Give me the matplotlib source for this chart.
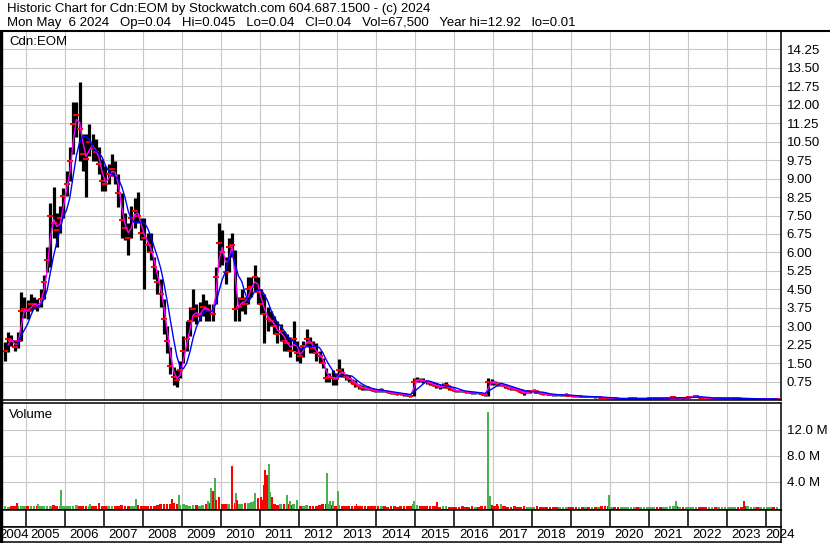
import numpy as np
import pandas as pd
import matplotlib
matplotlib.use('Agg')
import matplotlib.pyplot as plt
from matplotlib.lines import Line2D

plt.rcParams['font.family'] = ['Liberation Sans', 'DejaVu Sans']

# monthly bars, Jun 2004 .. Apr 2024
close = [
    2.0, 2.5, 2.4, 2.15, 2.4, 3.6, 3.7,                                   # 2004 Jun-Dec
    3.6, 3.9, 3.9, 3.8, 4.1, 4.8, 5.7, 7.5, 7.2, 6.9, 7.4, 8.3,            # 2005
    8.8, 9.7, 11.2, 11.6, 11.0, 10.0, 9.8, 10.5, 10.2, 10.1, 9.6, 8.9,     # 2006
    8.8, 9.2, 9.4, 9.1, 8.4, 7.3, 7.0, 6.6, 7.4, 7.7, 7.5, 6.8,            # 2007
    6.6, 6.3, 6.0, 5.4, 4.8, 4.3, 3.3, 2.4, 1.4, 0.95, 0.8, 1.2,           # 2008
    2.0, 2.5, 3.2, 3.7, 3.4, 3.5, 3.8, 3.7, 3.6, 3.5, 5.0, 6.4,            # 2009
    6.0, 5.2, 6.2, 6.3, 3.7, 3.8, 4.1, 3.9, 4.5, 4.6, 5.0, 4.4,            # 2010
    3.9, 3.5, 3.3, 3.2, 3.0, 2.7, 2.8, 2.4, 2.3, 2.0, 2.5, 1.9,            # 2011
    1.8, 2.2, 2.5, 2.3, 2.1, 1.9, 1.8, 1.5, 0.9, 0.95, 0.9, 0.85,          # 2012
    1.2, 1.1, 0.95, 0.85, 0.75, 0.65, 0.55, 0.5, 0.48, 0.45, 0.42, 0.38,   # 2013
    0.37, 0.4, 0.36, 0.32, 0.3, 0.27, 0.26, 0.25, 0.23, 0.2, 0.17, 0.75,   # 2014
    0.82, 0.8, 0.78, 0.72, 0.68, 0.62, 0.58, 0.53, 0.58, 0.6, 0.5, 0.4,    # 2015
    0.38, 0.36, 0.35, 0.33, 0.32, 0.3, 0.3, 0.27, 0.26, 0.2, 0.75, 0.72,   # 2016
    0.68, 0.65, 0.62, 0.55, 0.5, 0.47, 0.45, 0.42, 0.33, 0.28, 0.33, 0.36, # 2017
    0.38, 0.3, 0.27, 0.25, 0.23, 0.22, 0.21, 0.2, 0.2, 0.2, 0.21, 0.18,    # 2018
    0.16, 0.15, 0.15, 0.14, 0.14, 0.13, 0.13, 0.12, 0.12, 0.1, 0.09, 0.08, # 2019
    0.08, 0.07, 0.05, 0.05, 0.06, 0.06, 0.07, 0.07, 0.06, 0.06, 0.06, 0.06,  # 2020
    0.07, 0.09, 0.08, 0.07, 0.07, 0.08, 0.1, 0.11, 0.09, 0.09, 0.08, 0.1,    # 2021
    0.12, 0.14, 0.15, 0.12, 0.09, 0.08, 0.08, 0.08, 0.07, 0.07, 0.07, 0.07,  # 2022
    0.08, 0.08, 0.08, 0.07, 0.06, 0.05, 0.05, 0.05, 0.05, 0.04, 0.04, 0.04,  # 2023
    0.05, 0.05, 0.04, 0.04,                                                  # 2024
]
high = [
    2.35, 2.75, 2.65, 2.45, 2.75, 4.4, 4.2,
    4.05, 4.3, 4.2, 4.1, 4.5, 5.1, 6.2, 8.0, 8.66, 7.6, 7.9, 8.6,
    9.3, 10.3, 12.1, 12.1, 12.93, 10.8, 10.8, 11.2, 10.8, 10.6, 10.3, 9.8,
    9.5, 9.6, 10.0, 9.7, 9.2, 8.4, 7.6, 7.2, 7.9, 8.2, 8.46, 7.4,
    7.4, 6.8, 6.8, 5.8, 5.3, 4.9, 4.1, 3.0, 2.15, 1.35, 1.2, 1.6,
    2.6, 3.2, 3.8, 4.5, 3.9, 4.0, 4.3, 4.05, 3.9, 3.9, 5.4, 7.2,
    6.9, 5.8, 6.6, 6.8, 6.1, 4.2, 4.5, 4.2, 5.0, 5.0, 5.5, 5.0,
    4.5, 4.3, 3.8, 3.6, 3.4, 3.2, 3.1, 2.8, 2.7, 2.55, 3.2, 2.4,
    2.15, 2.4, 2.87, 2.55, 2.4, 2.3, 2.0, 1.7, 1.3, 1.1, 1.2, 1.1,
    1.65, 1.3, 1.07, 1.0, 0.86, 0.8, 0.66, 0.6, 0.58, 0.55, 0.5, 0.45,
    0.42, 0.47, 0.42, 0.37, 0.34, 0.3, 0.3, 0.29, 0.27, 0.24, 0.22, 0.9,
    0.95, 0.9, 0.88, 0.82, 0.78, 0.72, 0.68, 0.62, 0.7, 0.72, 0.62, 0.5,
    0.42, 0.4, 0.42, 0.37, 0.36, 0.34, 0.34, 0.31, 0.3, 0.26, 0.88, 0.86,
    0.78, 0.74, 0.7, 0.65, 0.58, 0.54, 0.52, 0.5, 0.44, 0.35, 0.4, 0.42,
    0.44, 0.4, 0.32, 0.3, 0.28, 0.26, 0.25, 0.24, 0.24, 0.25, 0.28, 0.22,
    0.2, 0.18, 0.18, 0.17, 0.17, 0.16, 0.16, 0.15, 0.15, 0.13, 0.12, 0.1,
    0.1, 0.09, 0.08, 0.07, 0.08, 0.08, 0.09, 0.09, 0.08, 0.08, 0.08, 0.08,
    0.09, 0.12, 0.1, 0.09, 0.09, 0.1, 0.14, 0.15, 0.12, 0.11, 0.1, 0.13,
    0.15, 0.18, 0.19, 0.16, 0.12, 0.1, 0.1, 0.1, 0.09, 0.09, 0.09, 0.09,
    0.1, 0.1, 0.1, 0.09, 0.08, 0.07, 0.07, 0.06, 0.06, 0.06, 0.05, 0.05,
    0.06, 0.06, 0.05, 0.05,
]
low = [
    1.6, 1.95, 2.2, 2.0, 2.1, 2.4, 3.35,
    3.3, 3.6, 3.7, 3.6, 3.8, 4.1, 5.2, 5.4, 6.6, 6.2, 6.8, 7.4,
    8.3, 8.9, 10.0, 10.7, 9.7, 9.3, 8.25, 9.9, 9.7, 9.7, 9.2, 8.5,
    8.5, 8.8, 9.1, 8.8, 7.85, 6.6, 6.5, 5.9, 6.6, 7.0, 7.2, 6.5,
    4.5, 6.0, 5.7, 4.9, 4.3, 3.8, 2.7, 1.9, 1.07, 0.6, 0.52, 0.9,
    1.5, 2.0, 2.6, 3.2, 3.1, 3.2, 3.4, 3.2, 3.2, 3.2, 3.9, 5.4,
    5.5, 4.7, 5.2, 5.8, 3.2, 3.2, 3.6, 3.5, 3.9, 4.2, 4.45, 3.9,
    3.5, 2.3, 2.8, 3.0, 2.7, 2.3, 2.4, 2.0, 2.0, 1.75, 2.0, 1.6,
    1.5, 1.75, 2.2, 1.9, 1.9, 1.6, 1.5, 1.3, 0.75, 0.75, 0.6, 0.6,
    0.93, 0.93, 0.8, 0.75, 0.66, 0.53, 0.46, 0.39, 0.4, 0.39, 0.36, 0.33,
    0.33, 0.34, 0.32, 0.29, 0.26, 0.24, 0.22, 0.21, 0.18, 0.15, 0.12, 0.15,
    0.72, 0.72, 0.7, 0.65, 0.6, 0.55, 0.5, 0.46, 0.5, 0.5, 0.42, 0.36,
    0.34, 0.32, 0.31, 0.3, 0.29, 0.26, 0.26, 0.23, 0.21, 0.16, 0.18, 0.6,
    0.6, 0.58, 0.55, 0.5, 0.45, 0.42, 0.4, 0.36, 0.28, 0.22, 0.27, 0.3,
    0.32, 0.27, 0.24, 0.22, 0.2, 0.19, 0.18, 0.17, 0.17, 0.17, 0.18, 0.15,
    0.14, 0.13, 0.13, 0.12, 0.12, 0.11, 0.11, 0.1, 0.1, 0.08, 0.07, 0.06,
    0.06, 0.05, 0.03, 0.03, 0.04, 0.05, 0.05, 0.05, 0.05, 0.05, 0.05, 0.05,
    0.05, 0.06, 0.06, 0.06, 0.06, 0.06, 0.07, 0.08, 0.07, 0.07, 0.06, 0.07,
    0.09, 0.11, 0.12, 0.09, 0.07, 0.06, 0.06, 0.06, 0.05, 0.05, 0.05, 0.05,
    0.06, 0.06, 0.06, 0.05, 0.05, 0.04, 0.04, 0.04, 0.04, 0.03, 0.03, 0.03,
    0.04, 0.04, 0.03, 0.03,
]
# typical daily volume per month (millions)
vol_base = [
    0.2, 0.15, 0.2, 0.3, 0.25, 0.3, 0.25,
    0.2, 0.2, 0.25, 0.3, 0.2, 0.25, 0.3, 0.3, 0.35, 0.25, 0.2, 0.3,
    0.3, 0.25, 0.3, 0.35, 0.3, 0.25, 0.2, 0.3, 0.25, 0.3, 0.35, 0.3,
    0.2, 0.2, 0.25, 0.2, 0.3, 0.35, 0.3, 0.3, 0.25, 0.3, 0.35, 0.3,
    0.25, 0.2, 0.2, 0.3, 0.4, 0.5, 0.6, 0.5, 0.6, 0.7, 0.5, 0.4,
    0.5, 0.4, 0.3, 0.4, 0.35, 0.3, 0.4, 0.5, 0.7, 0.8, 0.9, 0.8,
    0.6, 0.5, 0.6, 0.9, 0.8, 0.5, 0.6, 0.7, 0.8, 0.9, 1.0, 1.1,
    1.2, 1.0, 0.8, 0.6, 0.5, 0.4, 0.5, 0.6, 0.5, 0.4, 0.5, 0.4,
    0.3, 0.3, 0.35, 0.3, 0.25, 0.3, 0.35, 0.5, 0.6, 0.5, 0.4, 0.3,
    0.4, 0.3, 0.25, 0.2, 0.2, 0.25, 0.3, 0.2, 0.2, 0.25, 0.2, 0.2,
    0.2, 0.25, 0.2, 0.15, 0.2, 0.2, 0.15, 0.2, 0.2, 0.25, 0.2, 0.5,
    0.4, 0.3, 0.25, 0.2, 0.2, 0.25, 0.2, 0.15, 0.2, 0.2, 0.15, 0.15,
    0.15, 0.15, 0.2, 0.15, 0.15, 0.2, 0.15, 0.15, 0.2, 0.2, 0.6, 0.4,
    0.3, 0.25, 0.2, 0.2, 0.15, 0.15, 0.2, 0.15, 0.15, 0.2, 0.15, 0.15,
    0.15, 0.2, 0.15, 0.15, 0.1, 0.15, 0.1, 0.1, 0.15, 0.1, 0.1, 0.15,
    0.1, 0.15, 0.1, 0.15, 0.1, 0.1, 0.15, 0.1, 0.1, 0.2, 0.3, 0.2,
    0.15, 0.1, 0.15, 0.1, 0.15, 0.1, 0.1, 0.15, 0.1, 0.1, 0.15, 0.1,
    0.1, 0.15, 0.1, 0.1, 0.1, 0.15, 0.2, 0.3, 0.2, 0.15, 0.1, 0.1,
    0.15, 0.1, 0.15, 0.1, 0.1, 0.1, 0.15, 0.1, 0.1, 0.15, 0.1, 0.1,
    0.1, 0.15, 0.1, 0.1, 0.15, 0.2, 0.3, 0.15, 0.1, 0.15, 0.1, 0.1,
    0.15, 0.1, 0.1, 0.15,
]
# single heavy-volume days
spike_t = [2004.76, 2005.30, 2005.89, 2006.64, 2006.87, 2007.83, 2008.55, 2008.74,
           2008.93, 2009.68, 2009.74, 2009.80, 2009.85, 2009.89, 2009.96, 2010.30,
           2010.39, 2010.43, 2010.88, 2010.95, 2011.04, 2011.12, 2011.15, 2011.18,
           2011.23, 2011.28, 2011.32, 2011.70, 2011.78, 2011.95, 2012.72, 2012.81,
           2012.89, 2013.02, 2013.49, 2014.97, 2015.56, 2016.875, 2016.91, 2017.10,
           2017.20, 2019.98, 2021.69, 2023.45]
spike_vol = [0.8, 0.6, 2.7, 0.6, 0.8, 1.3, 0.5, 1.4,
             2.0, 1.1, 3.1, 2.5, 4.6, 1.2, 1.7, 6.5,
             2.3, 1.2, 2.2, 1.5, 1.6, 3.5, 5.8, 5.0,
             6.8, 2.4, 1.7, 1.9, 1.1, 1.2, 5.4, 1.1,
             1.1, 2.5, 0.6, 1.1, 0.9, 14.8, 1.8, 0.6,
             0.6, 1.9, 1.1, 1.1]
spike_up = [0, 1, 1, 1, 0, 1, 0, 0,
            1, 1, 1, 0, 1, 0, 0, 0,
            1, 0, 1, 0, 0, 0, 0, 0,
            1, 1, 0, 1, 1, 1, 1, 1,
            1, 1, 0, 1, 0, 1, 1, 0,
            1, 1, 1, 0]

price_ticks = [0.75, 1.50, 2.25, 3.00, 3.75, 4.50, 5.25, 6.00, 6.75, 7.50,
               8.25, 9.00, 9.75, 10.50, 11.25, 12.00, 12.75, 13.50, 14.25]
vol_ticks = [4, 8, 12]
years = list(range(2004, 2025))

title1 = "Historic Chart for Cdn:EOM by Stockwatch.com 604.687.1500 - (c) 2024"
title2 = ("Mon May  6 2024   Op=0.04   Hi=0.045   Lo=0.04   Cl=0.04   "
          "Vol=67,500   Year hi=12.92   lo=0.01")

t = 2004 + (5.5 + np.arange(len(close))) / 12
s = pd.Series(close)
ma_fast = s.rolling(2).mean()
ma_slow = s.rolling(5).mean()
up = np.r_[True, np.diff(close) >= 0]

W, H = 830, 543
fig = plt.figure(figsize=(W / 100, H / 100), dpi=100)
xlim = (2004.383, 2024.394)
grid_c = '#c8c8c8'
fs = 9.5


def box(l, top, r, b):
    a = fig.add_axes([l / W, 1 - b / H, (r - l) / W, (b - top) / H])
    for sp in a.spines.values():
        sp.set_color('black')
        sp.set_linewidth(1.1)
    a.set_xlim(*xlim)
    return a


# price panel
ax = box(2, 31, 781, 400)
ax.set_ylim(0, 15)
ax.set_xticks(years[1:])
ax.set_yticks(price_ticks)
ax.set_yticklabels(['%.2f' % v for v in price_ticks])
ax.yaxis.tick_right()
ax.tick_params(axis='y', length=0, pad=4, labelsize=fs)
ax.tick_params(axis='x', length=0, labelbottom=False)
ax.grid(True, color=grid_c, lw=0.8)
ax.set_axisbelow(True)
ax.vlines(t, low, high, color='black', lw=2.3)
ax.plot(t, close, ls='none', marker='_', ms=4, mew=1.4, color='red')
ax.plot(t, ma_fast, color='#ff00ff', lw=1.0)
ax.plot(t, ma_slow, color='#0000ff', lw=1.0)
ax.text(0.009, 0.97, 'Cdn:EOM', transform=ax.transAxes, ha='left', va='center', fontsize=fs)

# volume panel
axv = box(2, 402.5, 781, 510)
vb = -0.35
axv.set_ylim(vb, 16.2)
axv.set_xticks(years[1:])
axv.set_yticks(vol_ticks)
axv.set_yticklabels(['%.1f M' % v for v in vol_ticks])
axv.yaxis.tick_right()
axv.tick_params(axis='y', length=0, pad=4, labelsize=fs)
axv.tick_params(axis='x', length=0, labelbottom=False)
axv.grid(True, color=grid_c, lw=0.8)
axv.set_axisbelow(True)
green, red = '#4caf50', '#ff0000'
axv.bar(t, np.array(vol_base) - vb, bottom=vb, width=0.07,
        color=[green if u else red for u in up], lw=0)
axv.bar(spike_t, np.array(spike_vol) - vb, bottom=vb, width=0.05,
        color=[green if u else red for u in spike_up], lw=0)
axv.text(0.009, 0.885, 'Volume', transform=axv.transAxes, ha='left', va='center', fontsize=fs)

# year box row
axt = box(2, 510, 781, 527)
axt.set_ylim(0, 1)
axt.set_xticks([])
axt.set_yticks([])
axt.vlines(years[1:], 0, 1, color='black', lw=1.1)

# year label row
axl = box(2, 527, 781, 542)
axl.set_ylim(0, 1)
axl.set_xticks([])
axl.set_yticks([])
for y in years:
    xpos = min(max(y + 0.12, xlim[0] - 0.08), xlim[1] - 0.4)
    axl.text(xpos, 0.45, str(y), ha='left', va='center', fontsize=fs, clip_on=False)

# header and frame
fig.text(7 / W, 1 - 9 / H, title1, ha='left', va='center', fontsize=fs)
fig.text(7 / W, 1 - 23 / H, title2, ha='left', va='center', fontsize=fs)
fig.add_artist(Line2D([0, 1], [1 - 31 / H] * 2, color='black', lw=1.5))
fig.add_artist(plt.Rectangle((0, 0), 2 / W, (H - 31) / H, color='black',
                             transform=fig.transFigure))

fig.savefig('out.png', dpi=100)
